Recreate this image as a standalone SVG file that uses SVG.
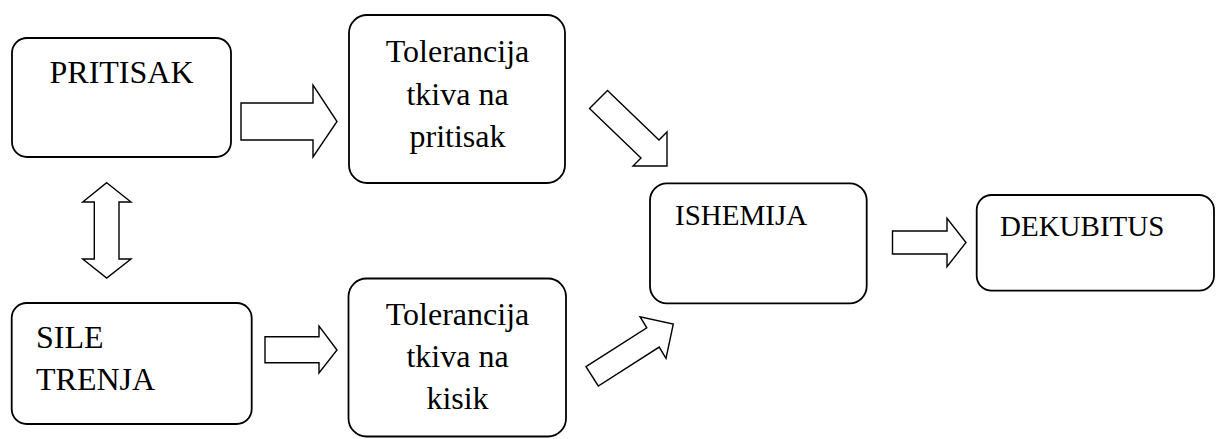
<svg xmlns="http://www.w3.org/2000/svg" width="1216" height="439" viewBox="0 0 1216 439">
<style>
.box{fill:#fff;stroke:#000;stroke-width:1.8}
.arr{fill:#fff;stroke:#000;stroke-width:1.4;stroke-linejoin:miter}
.big{font-size:32px}
.mid{font-size:29px}
.c{text-anchor:middle}
text{font-family:"Liberation Serif","Times New Roman","DejaVu Serif",serif;fill:#000}
</style>
<rect width="1216" height="439" fill="#fff"/>
<g id="connectors">
<polygon class="arr" points="241,103 313,103 313,85 337,121.5 313,157 313,140 241,140"/>
<polygon class="arr" points="265,336.7 319,336.7 319,326 337,350 319,373 319,362.7 265,362.7"/>
<polygon class="arr" points="892.5,231 947,231 947,218.3 966,242.5 947,266.7 947,254 892.5,254"/>
<polygon class="arr" points="106.7,182.7 131,202 119,202 119,259 131,259 106.7,278 82.7,259 94.3,259 94.3,202 82.7,202"/>
<polygon class="arr" points="607.5,90.5 659,140 667,132 667,166 633,166 641,158 589.5,108.5"/>
<polygon class="arr" points="586,366.7 646.8,327.9 640,316.7 673.3,324 666,358.3 659.2,347.1 598.3,386"/>
</g>
<g id="pritisak">
<rect class="box" x="12" y="38" width="219" height="119" rx="15"/>
<text class="big c" x="121.5" y="83">PRITISAK</text>
</g>
<g id="tol-pritisak">
<rect class="box" x="349" y="15" width="216" height="168" rx="18"/>
<text class="big c" x="457.5" y="62">Tolerancija</text>
<text class="big c" x="457.5" y="104.5">tkiva na</text>
<text class="big c" x="457.5" y="147">pritisak</text>
</g>
<g id="sile-trenja">
<rect class="box" x="11.7" y="303" width="240" height="121" rx="15"/>
<text class="big" x="36" y="348">SILE</text>
<text class="big" x="36" y="390">TRENJA</text>
</g>
<g id="tol-kisik">
<rect class="box" x="348.5" y="278.5" width="217.5" height="158" rx="18"/>
<text class="big c" x="457.5" y="325">Tolerancija</text>
<text class="big c" x="457.5" y="367">tkiva na</text>
<text class="big c" x="457.5" y="409">kisik</text>
</g>
<g id="ishemija">
<rect class="box" x="650" y="183.3" width="216.7" height="120" rx="17"/>
<text class="mid" x="675" y="225">ISHEMIJA</text>
</g>
<g id="dekubitus">
<rect class="box" x="976.7" y="195" width="237.3" height="95.7" rx="15"/>
<text class="mid" x="1000" y="235.7">DEKUBITUS</text>
</g>
</svg>
